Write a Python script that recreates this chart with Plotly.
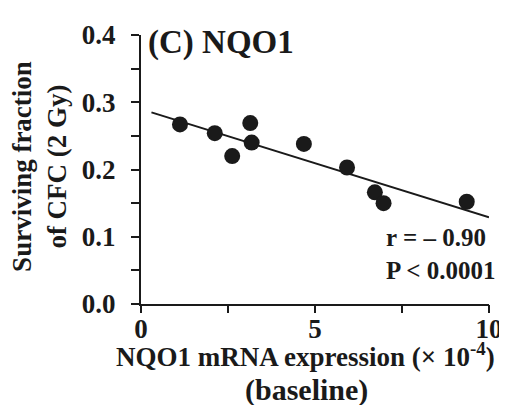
import plotly.graph_objects as go

# data
nqo1_expr = [1.12, 2.12, 2.62, 3.14, 3.18, 4.68, 5.92, 6.72, 6.97, 9.36]
surv_frac = [0.267, 0.254, 0.220, 0.269, 0.240, 0.238, 0.203, 0.166, 0.150, 0.152]
fit_x = [0.3, 10.0]
fit_y = [0.285, 0.129]
x_ticks = [0, 5, 10]
x_minor = [2.5, 7.5]
y_ticks = [0.0, 0.1, 0.2, 0.3, 0.4]
y_minor = [0.05, 0.15, 0.25, 0.35]

FONT = "Liberation Serif"
INK = "#1a1a1a"
fig = go.Figure()
fig.add_trace(go.Scatter(x=fit_x, y=fit_y, mode="lines",
                         line=dict(color=INK, width=2), showlegend=False))
fig.add_trace(go.Scatter(x=nqo1_expr, y=surv_frac, mode="markers", xaxis="x2",
                         marker=dict(color=INK, size=16), showlegend=False))

tick_font = dict(family=FONT, size=27, color=INK, weight="bold")

fig.update_layout(
    width=507, height=405,
    margin=dict(l=133, r=26, t=20, b=109),
    plot_bgcolor="white", paper_bgcolor="white",
    font=dict(family=FONT, color=INK),
    # axis line and tick labels
    xaxis=dict(range=[0, 10], tickvals=x_ticks, ticktext=[str(v) for v in x_ticks],
               ticks="", showgrid=False, zeroline=False, showline=True, linecolor=INK, linewidth=2,
               tickfont=tick_font),
    # tick marks on the same scale
    xaxis2=dict(range=[0, 10], overlaying="x", anchor="y", side="bottom",
                tickvals=x_ticks, showticklabels=False, showgrid=False, zeroline=False,
                showline=False, ticks="outside", ticklen=8, tickwidth=2, tickcolor=INK,
                minor=dict(tickvals=x_minor, ticks="outside", ticklen=8, tickwidth=2, tickcolor=INK)),
    yaxis=dict(range=[0, 0.4], tickvals=y_ticks, ticktext=[f"{v:.1f}" for v in y_ticks],
               showgrid=False, zeroline=False, showline=True, linecolor=INK, linewidth=2,
               ticks="outside", ticklen=8, tickwidth=2, tickcolor=INK, tickfont=tick_font,
               minor=dict(tickvals=y_minor, ticks="outside", ticklen=8, tickwidth=2, tickcolor=INK),
               ticklabelstandoff=10),
)

bold = lambda s: dict(family=FONT, size=s, color=INK, weight="bold")

# axis titles
fig.add_annotation(text="Surviving fraction<br>of CFC (2 Gy)", xref="paper", yref="paper",
                   x=-0.290, y=0.51, xanchor="center", yanchor="middle", textangle=-90,
                   showarrow=False, font=bold(27))
fig.add_annotation(text="NQO1 mRNA expression (× 10<sup>-4</sup>)", xref="paper", yref="paper",
                   x=-0.077, y=-0.190, xanchor="left", yanchor="middle",
                   showarrow=False, font=bold(27))
fig.add_annotation(text="(baseline)", xref="paper", yref="paper",
                   x=0.476, y=-0.318, xanchor="center", yanchor="middle",
                   showarrow=False, font=bold(30))

# panel title and statistics
fig.add_annotation(text="(C) NQO1", xref="paper", yref="paper", x=0.014, y=0.971,
                   xanchor="left", yanchor="middle", showarrow=False, font=bold(33))
fig.add_annotation(text="r = – 0.90<br>P < 0.0001", xref="paper", yref="paper", x=1.022, y=0.185,
                   xanchor="right", yanchor="middle", align="left", showarrow=False,
                   font=bold(25))

fig.write_html("out.html")
